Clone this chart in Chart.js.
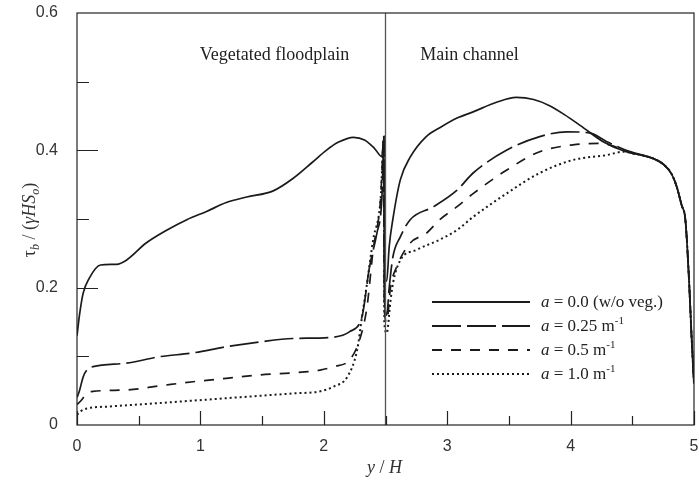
<!DOCTYPE html>
<html lang="en">
<head>
    <meta charset="UTF-8">
    <title>Bed shear stress distribution</title>
    <script src="https://cdn.jsdelivr.net/npm/chart.js"></script>
    <style>
        body { margin: 0; background: #fff; }
        #wrap { width: 699px; height: 483px; }
    </style>
</head>
<body>
    <div id="wrap"><canvas id="shearChart" width="699" height="483"></canvas></div>
    <script>
        // a = 0.0 (no vegetation)
        const xA0 = [0, 0.02, 0.05, 0.1, 0.19, 0.32, 0.4, 0.56, 0.73, 0.89, 1.05, 1.21, 1.375, 1.59, 1.75, 1.91, 2.02, 2.12, 2.24, 2.33, 2.41, 2.47, 2.488, 2.49,
            2.51, 2.53, 2.56, 2.62, 2.7, 2.83, 2.95, 3.08, 3.21, 3.4, 3.56, 3.7, 3.83, 3.95, 4.08, 4.26, 4.45, 4.6, 4.67, 4.75, 4.82, 4.86, 4.9, 4.93, 4.96, 4.98, 5.0];
        const yA0 = [0.13, 0.16, 0.192, 0.214, 0.233, 0.234, 0.24, 0.265, 0.284, 0.299, 0.311, 0.324, 0.332, 0.341, 0.359, 0.383, 0.40, 0.412, 0.419, 0.415, 0.403, 0.391, 0.42, 0.21,
            0.21, 0.26, 0.30, 0.357, 0.39, 0.42, 0.434, 0.447, 0.456, 0.47, 0.477, 0.474, 0.465, 0.452, 0.436, 0.413, 0.398, 0.392, 0.388, 0.38, 0.365, 0.347, 0.32, 0.299, 0.21, 0.13, 0.06];

        // a = 0.25 m-1
        const xA25 = [0, 0.02, 0.05, 0.08, 0.13, 0.4, 0.67, 0.94, 1.21, 1.48, 1.75, 2.08, 2.21, 2.31, 2.37, 2.43, 2.47, 2.488, 2.49,
            2.51, 2.53, 2.56, 2.62, 2.7, 2.89, 3.08, 3.21, 3.48, 3.75, 3.97, 4.16, 4.29, 4.45, 4.6, 4.67, 4.75, 4.82, 4.86, 4.9, 4.93, 4.96, 4.98, 5.0];
        const yA25 = [0.04, 0.05, 0.07, 0.08, 0.085, 0.09, 0.0995, 0.105, 0.114, 0.121, 0.126, 0.128, 0.136, 0.158, 0.23, 0.279, 0.328, 0.42, 0.19,
            0.16, 0.2, 0.245, 0.274, 0.299, 0.318, 0.342, 0.367, 0.40, 0.42, 0.427, 0.425, 0.413, 0.40, 0.392, 0.388, 0.38, 0.365, 0.347, 0.32, 0.299, 0.21, 0.13, 0.06];

        // a = 0.5 m-1
        const xA50 = [0, 0.03, 0.08, 0.13, 0.4, 0.67, 0.94, 1.21, 1.48, 1.75, 1.97, 2.08, 2.21, 2.29, 2.35, 2.4, 2.46, 2.488, 2.49,
            2.51, 2.54, 2.59, 2.7, 2.83, 2.94, 3.08, 3.21, 3.48, 3.75, 4.02, 4.24, 4.4, 4.5, 4.6, 4.67, 4.75, 4.82, 4.86, 4.9, 4.93, 4.96, 4.98, 5.0];
        const yA50 = [0.03, 0.035, 0.046, 0.049, 0.051, 0.057, 0.063, 0.068, 0.073, 0.076, 0.08, 0.085, 0.095, 0.124, 0.172, 0.255, 0.328, 0.42, 0.17,
            0.15, 0.2, 0.23, 0.265, 0.279, 0.299, 0.318, 0.337, 0.371, 0.398, 0.408, 0.41, 0.403, 0.396, 0.392, 0.388, 0.38, 0.365, 0.347, 0.32, 0.299, 0.21, 0.13, 0.06];

        // a = 1.0 m-1
        const xA100 = [0, 0.03, 0.08, 0.27, 0.67, 1.21, 1.75, 1.97, 2.08, 2.19, 2.27, 2.31, 2.35, 2.4, 2.46, 2.488, 2.49,
            2.51, 2.54, 2.56, 2.62, 2.75, 2.94, 3.08, 3.21, 3.48, 3.75, 4.02, 4.29, 4.43, 4.52, 4.6, 4.67, 4.75, 4.82, 4.86, 4.9, 4.93, 4.96, 4.98, 5.0];
        const yA100 = [0.015, 0.02, 0.024, 0.027, 0.032, 0.039, 0.046, 0.049, 0.056, 0.07, 0.109, 0.158, 0.206, 0.27, 0.328, 0.42, 0.15,
            0.134, 0.18, 0.206, 0.24, 0.255, 0.27, 0.284, 0.303, 0.337, 0.367, 0.386, 0.393, 0.398, 0.395, 0.392, 0.388, 0.38, 0.365, 0.347, 0.32, 0.299, 0.21, 0.13, 0.06];

        const xTicks = [0, 1, 2, 3, 4, 5];
        const yTicks = [0, 0.2, 0.4, 0.6];
        const seriesLabels = ["0.0 (w/o veg.)", "0.25 m", "0.5 m", "1.0 m"];
        const regionLabels = ["Vegetated floodplain", "Main channel"];
        const dividerX = [2.5, 2.5];
        const dividerY = [0, 0.6];

        const pts = (xs, ys) => xs.map((x, i) => ({ x: x, y: ys[i] }));
        const lineColor = "#1a1a1a";
        const dashes = [[], [29, 6], [10, 9], [2, 3]];

        function mkSet(label, xs, ys, k) {
            return {
                label: label,
                data: pts(xs, ys),
                borderColor: lineColor,
                borderWidth: k === 3 ? 2 : 1.7,
                borderDash: dashes[k],
                pointRadius: 0,
                fill: false,
                cubicInterpolationMode: "monotone"
            };
        }

        // rich text helper: parts = [[text, font, dy], ...]
        function drawParts(ctx, parts, x, y) {
            let cx = x;
            parts.forEach(p => {
                ctx.font = p[1];
                ctx.fillText(p[0], cx, y + (p[2] || 0));
                cx += ctx.measureText(p[0]).width;
            });
        }

        const decor = {
            id: "decor",
            afterDatasetsDraw(chart) {
                const ctx = chart.ctx;
                const a = chart.chartArea;
                const xs = chart.scales.x, ys = chart.scales.y;
                ctx.save();
                // frame
                ctx.strokeStyle = "#222";
                ctx.lineWidth = 1.2;
                ctx.strokeRect(a.left, a.top, a.right - a.left, a.bottom - a.top);
                // inward ticks
                ctx.beginPath();
                for (let v = 0; v <= 5.001; v += 0.5) {
                    const px = Math.round(xs.getPixelForValue(v)) + 0.5;
                    const len = Math.abs(v - Math.round(v)) < 0.01 ? 14 : 9;
                    ctx.moveTo(px, a.bottom);
                    ctx.lineTo(px, a.bottom - len);
                }
                for (let v = 0.1; v < 0.6; v += 0.1) {
                    const py = Math.round(ys.getPixelForValue(v)) + 0.5;
                    const major = Math.abs(v * 5 - Math.round(v * 5)) < 0.01;
                    ctx.moveTo(a.left, py);
                    ctx.lineTo(a.left + (major ? 21 : 12), py);
                }
                ctx.stroke();

                // region labels
                ctx.fillStyle = "#222";
                ctx.font = "18px 'Liberation Serif', serif";
                ctx.textBaseline = "middle";
                ctx.textAlign = "center";
                ctx.fillText(regionLabels[0], xs.getPixelForValue(1.6), ys.getPixelForValue(0.538));
                ctx.fillText(regionLabels[1], xs.getPixelForValue(3.18), ys.getPixelForValue(0.538));

                // legend
                ctx.textAlign = "left";
                ctx.textBaseline = "alphabetic";
                const rowY = [302, 326, 350, 374];
                const it = "italic 17px 'Liberation Serif', serif";
                const rm = "17px 'Liberation Serif', serif";
                const sup = "11px 'Liberation Serif', serif";
                rowY.forEach((ry, k) => {
                    ctx.beginPath();
                    ctx.strokeStyle = lineColor;
                    ctx.lineWidth = k === 3 ? 2 : 1.8;
                    ctx.setLineDash(dashes[k]);
                    ctx.moveTo(432, ry);
                    ctx.lineTo(530, ry);
                    ctx.stroke();
                    ctx.setLineDash([]);
                    const parts = [["a", it], [" = " + seriesLabels[k], rm]];
                    if (k > 0) parts.push(["-1", sup, -7]);
                    drawParts(ctx, parts, 541, ry + 5);
                });

                // axis titles
                ctx.fillStyle = "#333";
                ctx.textAlign = "left";
                const xt = [["y", "italic 18px 'Liberation Serif', serif"], [" / ", "18px 'Liberation Serif', serif"], ["H", "italic 18px 'Liberation Serif', serif"]];
                drawParts(ctx, xt, 367, 473);

                ctx.translate(35, 220);
                ctx.rotate(-Math.PI / 2);
                const yt = [
                    ["\u03c4", "18px 'Liberation Serif', serif"],
                    ["b", "italic 12px 'Liberation Serif', serif", 4],
                    [" / (", "18px 'Liberation Serif', serif"],
                    ["\u03b3HS", "italic 18px 'Liberation Serif', serif"],
                    ["o", "italic 12px 'Liberation Serif', serif", 4],
                    [")", "18px 'Liberation Serif', serif"]
                ];
                let w = 0;
                yt.forEach(p => { ctx.font = p[1]; w += ctx.measureText(p[0]).width; });
                drawParts(ctx, yt, -w / 2, 0);
                ctx.restore();
            }
        };

        const ctx = document.getElementById("shearChart").getContext("2d");
        new Chart(ctx, {
            type: "line",
            data: {
                datasets: [
                    {
                        label: "divider",
                        data: pts(dividerX, dividerY),
                        borderColor: "#555",
                        borderWidth: 1.3,
                        pointRadius: 0,
                        fill: false
                    },
                    mkSet("a = 0.0", xA0, yA0, 0),
                    mkSet("a = 0.25", xA25, yA25, 1),
                    mkSet("a = 0.5", xA50, yA50, 2),
                    mkSet("a = 1.0", xA100, yA100, 3)
                ]
            },
            options: {
                responsive: false,
                animation: false,
                layout: { padding: { top: 13, right: 5, left: 0, bottom: 0 } },
                plugins: { legend: { display: false }, tooltip: { enabled: false } },
                scales: {
                    x: {
                        type: "linear",
                        min: 0,
                        max: 5,
                        afterBuildTicks: s => { s.ticks = xTicks.map(v => ({ value: v })); },
                        afterFit: s => { s.height = 58; s.paddingLeft = 0; s.paddingRight = 0; },
                        grid: { display: false, drawTicks: false },
                        border: { display: false },
                        ticks: {
                            padding: 12,
                            color: "#333",
                            font: { family: "'Liberation Sans', Arial, sans-serif", size: 16 }
                        }
                    },
                    y: {
                        min: 0,
                        max: 0.6,
                        afterBuildTicks: s => { s.ticks = yTicks.map(v => ({ value: v })); },
                        afterFit: s => { s.width = 77; s.paddingTop = 0; s.paddingBottom = 0; },
                        grid: { display: false, drawTicks: false },
                        border: { display: false },
                        ticks: {
                            padding: 19,
                            color: "#333",
                            font: { family: "'Liberation Sans', Arial, sans-serif", size: 16 },
                            callback: v => v === 0 ? "0" : v.toFixed(1)
                        }
                    }
                }
            },
            plugins: [decor]
        });
    </script>
</body>
</html>
